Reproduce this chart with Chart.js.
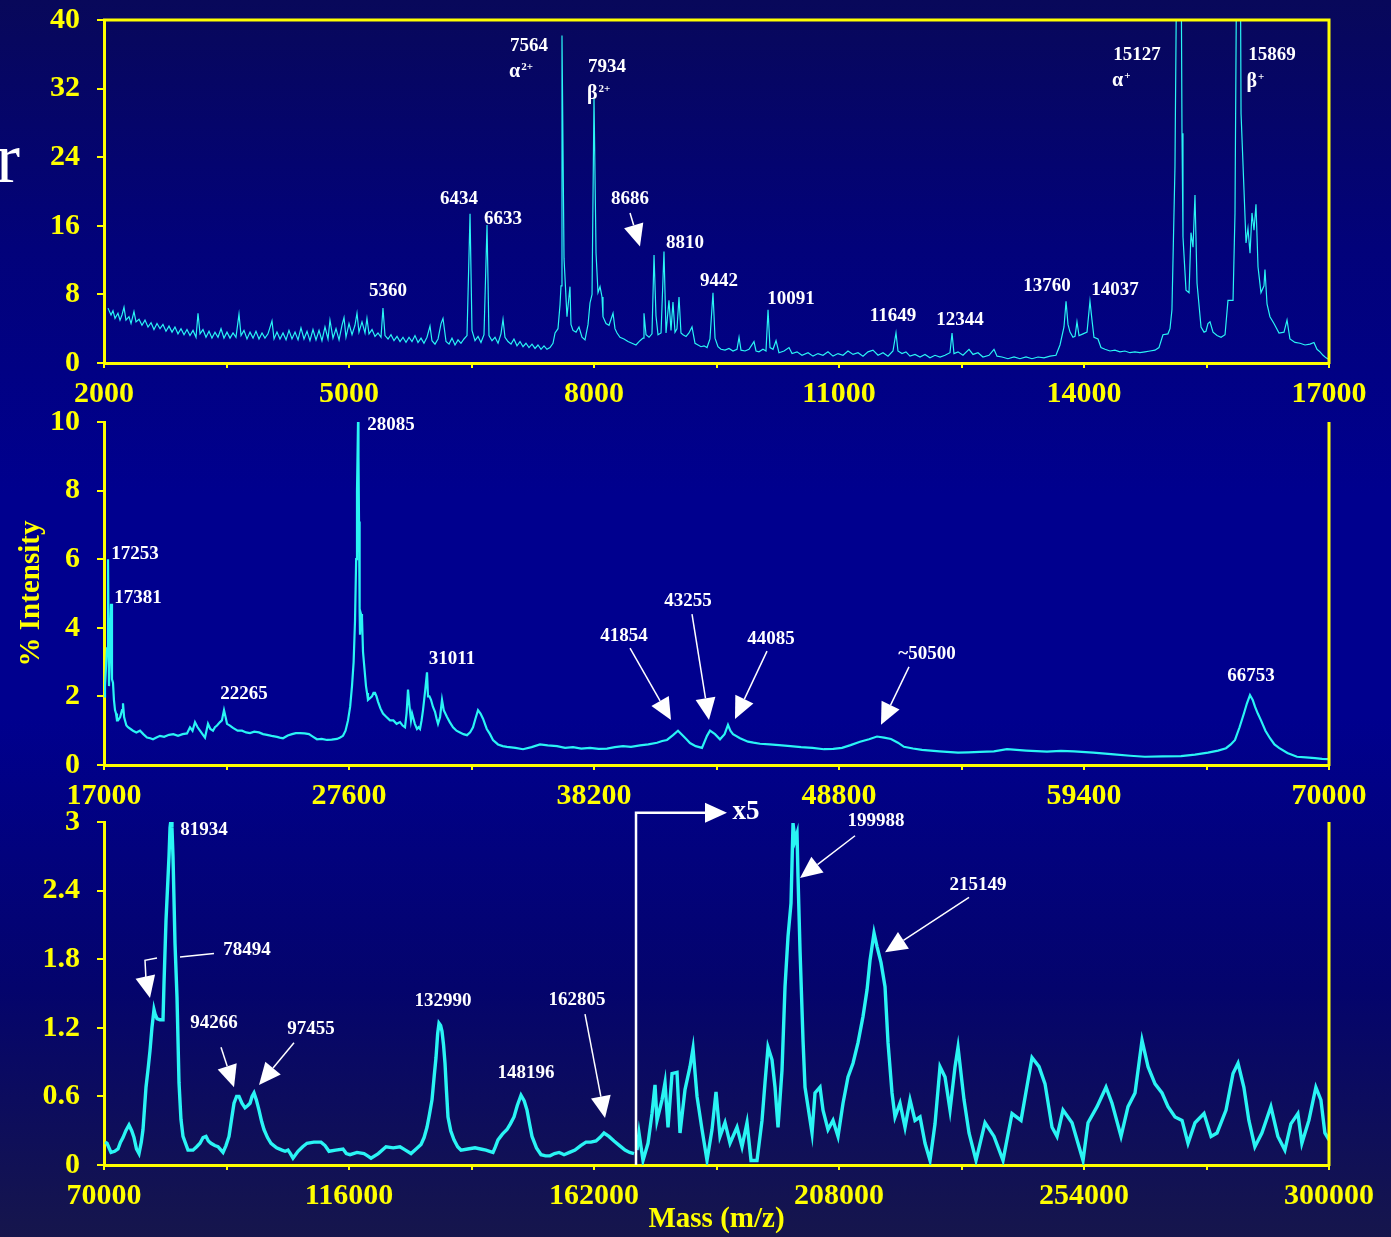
<!DOCTYPE html>
<html>
<head>
<meta charset="utf-8">
<script src="https://cdn.jsdelivr.net/npm/chart.js@4.4.1/dist/chart.umd.min.js"></script>
<style>
  html, body { margin: 0; padding: 0; }
  body {
    width: 1391px; height: 1237px; overflow: hidden; position: relative;
    background: linear-gradient(180deg, #08085a 0%, #02027a 20%, #00008e 40%, #00008e 58%, #04046c 80%, #16164c 100%);
  }
  canvas { position: absolute; left: 0; }
  #c1 { top: 0; }
  #c2 { top: 410px; }
  #c3 { top: 790px; }
  .stray { position: absolute; left: -4px; top: 122px; color: #fff; font: 72px/1 'Liberation Serif', serif; }
</style>
</head>
<body>
<div class="stray">r</div>
<canvas id="c1" width="1391" height="410"></canvas>
<canvas id="c2" width="1391" height="400"></canvas>
<canvas id="c3" width="1391" height="447"></canvas>
<script>
// ---- panel 1 : 2000 - 17000 ----
const xTicks1 = [2000, 5000, 8000, 11000, 14000, 17000];
const yTicks1 = [0, 8, 16, 24, 32, 40];
const mass1 = [
  2049,2086,2110,2135,2171,2196,2220,2245,2269,2306,
  2331,2367,2392,2429,2465,2502,2539,2576,2612,2649,
  2686,2722,2759,2796,2833,2869,2906,2943,2980,3016,
  3053,3090,3127,3151,3176,3212,3249,3286,3322,3359,
  3396,3433,3469,3506,3543,3580,3616,3653,3678,3714,
  3751,3788,3825,3861,3898,3935,3971,4008,4057,4082,
  4118,4155,4192,4229,4265,4302,4339,4376,4412,4449,
  4486,4522,4559,4596,4633,4669,4706,4743,4767,4804,
  4841,4878,4914,4939,4963,5000,5037,5073,5098,5122,
  5159,5196,5220,5245,5282,5318,5355,5392,5416,5441,
  5478,5514,5551,5588,5625,5661,5698,5735,5771,5808,
  5845,5882,5918,5955,5992,6016,6053,6090,6127,6151,
  6188,6225,6261,6298,6335,6371,6408,6445,6482,6506,
  6543,6580,6616,6653,6690,6714,6751,6788,6825,6861,
  6886,6910,6947,6984,7020,7057,7094,7131,7167,7204,
  7241,7278,7314,7351,7388,7424,7461,7498,7523,7559,
  7584,7596,7608,7633,7669,7706,7718,7743,7780,7816,
  7853,7890,7927,7951,7976,8000,8025,8049,8074,8098,
  8110,8147,8184,8233,8257,8282,8318,8367,8416,8465,
  8514,8563,8600,8612,8637,8674,8710,8735,8759,8784,
  8821,8857,8882,8918,8943,8967,8992,9016,9041,9065,
  9090,9127,9163,9200,9237,9274,9310,9347,9384,9420,
  9457,9482,9518,9555,9604,9653,9702,9751,9776,9800,
  9849,9898,9959,9984,10020,10069,10106,10131,10155,10192,
  10229,10265,10327,10388,10425,10486,10547,10621,10682,10743,
  10804,10865,10927,10988,11049,11110,11172,11233,11294,11355,
  11416,11478,11539,11600,11661,11698,11722,11771,11820,11869,
  11931,11992,12053,12114,12176,12237,12298,12359,12384,12408,
  12457,12518,12592,12641,12702,12763,12837,12898,12935,12996,
  13069,13143,13216,13290,13363,13437,13510,13584,13657,13706,
  13755,13780,13804,13829,13865,13890,13914,13939,13988,14037,
  14073,14098,14122,14171,14208,14257,14318,14379,14440,14501,
  14562,14624,14685,14746,14808,14869,14918,14967,15028,15053,
  15077,15114,15139,15188,15200,15212,15249,15286,15310,15335,
  15359,15384,15433,15470,15494,15518,15543,15580,15629,15678,
  15727,15763,15825,15849,15874,15911,15923,15959,15984,16008,
  16033,16057,16082,16106,16131,16167,16204,16216,16241,16277,
  16326,16388,16449,16486,16522,16584,16645,16706,16767,16816,
  16853,16890,16927,16963,17000
];
const inten1 = [
  6.4,5.6,6.1,5.2,5.8,5.0,5.6,6.5,5.0,5.4,
  4.6,6.0,4.8,5.1,4.4,5.0,4.2,4.7,3.9,4.6,
  4.0,4.5,3.7,4.3,3.6,4.2,3.4,4.0,3.3,3.9,
  3.2,3.8,3.0,5.8,3.4,3.9,3.0,3.7,2.9,3.6,
  3.0,4.0,2.9,3.6,2.9,3.5,3.0,5.7,3.2,3.8,
  2.8,3.6,2.9,3.7,2.8,3.5,2.9,3.4,4.9,2.8,
  3.6,2.8,3.5,2.7,3.8,2.8,3.6,2.7,4.1,2.8,
  3.7,2.6,3.9,2.7,3.8,2.6,4.2,2.8,5.0,2.9,
  4.0,2.7,4.4,5.3,3.0,4.6,3.3,4.4,5.8,3.6,
  4.8,3.5,5.2,3.4,3.9,3.1,3.5,3.0,6.4,3.2,
  2.8,3.3,2.6,3.1,2.5,3.0,2.4,3.0,2.5,3.2,
  2.4,2.9,2.3,3.0,4.3,2.6,2.2,2.8,4.6,5.2,
  2.5,2.2,2.9,2.1,2.7,2.3,2.8,3.2,17.4,3.8,
  2.6,3.1,2.4,3.3,16.1,3.2,2.6,3.0,2.3,3.4,
  5.1,3.0,2.5,2.2,2.8,2.0,2.5,1.9,2.3,1.8,
  2.2,1.7,2.1,1.6,2.0,1.6,1.8,2.3,3.5,4.0,
  6.8,9.0,38.2,12.2,5.4,8.9,4.5,3.8,3.6,4.2,
  3.0,2.7,4.5,7.0,8.0,30.9,12.8,8.2,8.9,7.7,
  5.4,4.6,4.4,5.8,4.0,3.5,3.0,2.8,2.5,2.3,
  2.1,2.6,2.9,5.8,3.3,3.0,3.4,12.6,5.5,3.3,
  3.5,13.0,3.5,7.3,3.8,7.1,3.6,4.0,7.7,3.5,
  3.3,3.1,3.5,4.2,2.3,2.1,1.9,2.0,1.8,2.8,
  8.2,2.9,1.9,1.6,1.5,1.7,1.4,1.6,3.0,1.5,
  1.4,1.6,2.5,1.4,1.3,1.6,1.4,6.2,1.8,1.6,
  2.6,1.2,1.4,1.8,1.1,1.3,0.9,1.2,0.8,1.1,
  0.9,1.3,0.8,1.1,0.9,1.4,1.0,1.2,0.8,1.3,
  1.5,0.9,1.2,0.8,1.4,3.5,1.4,1.1,1.3,0.8,
  1.0,0.7,1.0,0.6,0.9,0.7,0.9,1.2,3.5,1.1,
  1.3,0.9,1.6,1.0,1.2,0.7,0.9,1.6,0.8,0.7,
  0.5,0.7,0.5,0.7,0.5,0.7,0.6,0.8,0.9,2.1,
  4.2,7.2,4.5,3.6,3.0,3.1,4.8,3.2,3.4,3.6,
  7.2,5.0,3.0,2.8,1.8,1.6,1.4,1.5,1.3,1.4,
  1.2,1.3,1.2,1.3,1.4,1.5,1.8,3.3,3.4,4.0,
  6.2,22.9,52,50,26.8,14.7,8.5,8.2,15.2,13.5,
  19.6,9.3,4.2,3.6,3.7,4.6,4.8,3.6,3.2,3.0,
  3.3,7.3,7.3,17.5,55,55,29.1,20.2,14.0,15.7,
  12.8,17.5,15.5,18.5,11.2,8.2,9.0,10.9,6.9,5.4,
  4.6,3.5,3.6,5.0,2.8,2.4,2.3,2.1,2.2,2.4,
  1.6,1.3,0.9,0.6,0.4
];

// ---- panel 2 : 17000 - 70000 ----
const xTicks2 = [17000, 27600, 38200, 48800, 59400, 70000];
const yTicks2 = [0, 2, 4, 6, 8, 10];
const mass2 = [
  17000,17043,17090,17130,17173,17195,17216,17260,17303,17346,
  17389,17430,17476,17520,17562,17606,17700,17780,17822,17870,
  17909,17970,18038,18150,18255,18400,18558,18700,18860,19000,
  19120,19270,19423,19600,19812,20000,20202,20400,20591,20721,
  20830,20937,21050,21153,21260,21370,21500,21600,21716,21800,
  21889,22019,22100,22192,22260,22322,22450,22581,22780,22971,
  23150,23317,23500,23706,23880,24052,24250,24485,24600,24744,
  24950,25134,25300,25480,25680,25869,26050,26215,26420,26648,
  26850,27081,27220,27340,27450,27557,27650,27730,27800,27860,
  27910,27946,27990,28010,28033,28060,28076,28120,28162,28206,
  28270,28335,28380,28422,28510,28595,28660,28725,28790,28855,
  28960,29071,29220,29374,29520,29660,29807,29920,30023,30090,
  30153,30220,30282,30330,30369,30450,30542,30610,30672,30740,
  30802,30900,30975,31018,31080,31148,31230,31321,31390,31451,
  31540,31624,31700,31840,31960,32100,32250,32403,32550,32705,
  32840,32965,33070,33182,33290,33398,33560,33701,33830,34047,
  34250,34436,34800,35128,35500,35864,36200,36599,36950,37291,
  37650,38027,38400,38762,39100,39455,39800,40190,40550,40926,
  41150,41358,41618,41834,42050,42200,42353,42600,42872,43089,
  43218,43435,43651,43850,43997,44100,44214,44517,44863,45100,
  45382,45800,46204,46700,47156,47650,48151,48550,48930,49300,
  49709,50100,50444,50750,51050,51350,51612,52000,52391,53150,
  53948,54400,54900,55500,56068,56900,57799,58400,58967,59800,
  60698,61400,62034,62800,63597,64200,64763,65200,65545,65750,
  65933,66130,66322,66450,66581,66700,66798,66920,67058,67250,
  67447,67640,67836,68200,68615,69000,69394,69700,69956
];
const inten2 = [
  2.0,2.3,2.9,3.4,6.0,4.0,2.3,3.5,4.7,2.5,
  2.4,1.9,1.6,1.5,1.3,1.3,1.4,1.6,1.8,1.4,
  1.3,1.15,1.1,1.05,1.0,0.95,1.0,0.9,0.8,0.78,
  0.75,0.8,0.85,0.82,0.88,0.9,0.85,0.9,0.92,1.1,
  1.0,1.25,1.1,1.0,0.9,0.8,1.2,1.05,1.0,1.1,
  1.15,1.25,1.3,1.6,1.4,1.2,1.15,1.08,1.0,1.0,
  0.95,0.93,0.97,0.95,0.9,0.88,0.85,0.82,0.8,0.78,
  0.86,0.9,0.93,0.93,0.92,0.9,0.82,0.75,0.76,0.73,
  0.74,0.76,0.8,0.85,1.0,1.3,1.7,2.3,3.0,4.2,
  6.0,8.0,10.0,9.0,7.1,4.5,3.8,4.4,4.3,3.3,
  2.8,2.3,2.1,1.9,1.95,2.0,2.1,2.1,2.0,1.85,
  1.65,1.5,1.4,1.3,1.3,1.2,1.25,1.15,1.1,1.5,
  2.2,1.7,1.3,1.5,1.4,1.2,1.05,1.1,1.05,1.3,
  1.6,2.2,2.7,2.0,2.0,1.9,1.7,1.55,1.35,1.2,
  1.4,1.9,1.6,1.4,1.25,1.1,1.0,0.95,0.9,0.87,
  0.95,1.1,1.35,1.6,1.5,1.35,1.05,0.9,0.73,0.6,
  0.55,0.53,0.5,0.46,0.52,0.6,0.57,0.55,0.5,0.52,
  0.48,0.5,0.47,0.48,0.52,0.55,0.53,0.57,0.6,0.65,
  0.7,0.73,0.87,1.0,0.85,0.75,0.64,0.55,0.5,0.85,
  1.0,0.9,0.75,0.9,1.17,1.0,0.9,0.78,0.68,0.65,
  0.62,0.6,0.58,0.55,0.52,0.5,0.46,0.47,0.5,0.58,
  0.68,0.75,0.83,0.8,0.76,0.65,0.53,0.48,0.44,0.4,
  0.36,0.37,0.38,0.4,0.46,0.42,0.39,0.41,0.4,0.36,
  0.31,0.27,0.24,0.25,0.26,0.3,0.36,0.42,0.49,0.6,
  0.73,1.1,1.51,1.8,2.04,1.9,1.7,1.5,1.3,1.0,
  0.78,0.6,0.5,0.35,0.24,0.22,0.2,0.18,0.17
];

// ---- panel 3 : 70000 - 300000 (values above ~170000 shown x5) ----
const xTicks3 = [70000, 116000, 162000, 208000, 254000, 300000];
const yTicks3 = [0, 0.6, 1.2, 1.8, 2.4, 3];
const mass3 = [
  70200,70563,71314,72000,72629,73100,73567,74100,74694,75200,
  75633,76100,76572,77000,77323,77886,78300,78637,79000,79388,
  79600,79951,80500,81078,81266,81641,82204,82400,82580,82760,
  82955,83331,83706,84082,84450,84833,85772,86711,87400,88025,
  88600,89152,89600,90090,90800,91405,92343,92900,93470,93950,
  94409,94900,95348,95900,96474,97000,97413,97800,98164,98600,
  99103,99600,100042,100700,101356,102400,103421,104000,104548,105000,
  105487,106425,107300,108115,109400,110744,111500,112246,113500,114875,
  115500,116189,117500,118818,119500,120132,121500,122948,124300,125577,
  126600,127642,128600,129520,130100,130646,131100,131585,132000,132336,
  132650,132900,133200,133463,133750,134026,134300,134589,135100,135716,
  136400,137030,138300,139658,140700,141724,142400,143039,143500,143977,
  144800,145667,146300,146982,147600,148295,148900,149422,149900,150362,
  151200,152051,152900,153741,154600,155431,155900,156370,157400,158435,
  159500,160500,161400,162378,163100,163880,164800,165758,166800,167823,
  168700,169513
];
const inten3 = [
  0.20,0.19,0.11,0.12,0.14,0.20,0.24,0.30,0.35,0.30,
  0.24,0.14,0.10,0.20,0.31,0.68,0.85,1.00,1.20,1.36,
  1.32,1.28,1.27,1.27,1.59,2.14,2.70,2.95,3.02,2.95,
  2.70,1.94,1.47,0.72,0.40,0.25,0.13,0.13,0.16,0.19,
  0.24,0.25,0.21,0.19,0.17,0.16,0.11,0.17,0.25,0.40,
  0.54,0.60,0.60,0.54,0.50,0.52,0.54,0.60,0.63,0.57,
  0.48,0.38,0.31,0.24,0.19,0.15,0.13,0.12,0.13,0.10,
  0.06,0.12,0.16,0.19,0.20,0.20,0.17,0.12,0.13,0.14,
  0.10,0.09,0.11,0.10,0.08,0.06,0.10,0.16,0.15,0.16,
  0.13,0.10,0.14,0.18,0.24,0.33,0.44,0.57,0.78,0.94,
  1.15,1.24,1.22,1.17,1.05,0.89,0.65,0.42,0.30,0.22,
  0.16,0.13,0.14,0.15,0.14,0.13,0.12,0.11,0.16,0.22,
  0.27,0.31,0.36,0.42,0.52,0.61,0.56,0.48,0.36,0.25,
  0.15,0.09,0.08,0.08,0.10,0.11,0.10,0.09,0.11,0.13,
  0.17,0.20,0.20,0.21,0.24,0.28,0.25,0.21,0.17,0.13,
  0.11,0.10
];
const mass3x5 = [
  170076,170452,171203,172141,172892,173456,173831,174770,175333,175897,
  176648,177586,178150,179089,180027,180591,181342,182280,183219,184158,
  184909,185660,186599,187538,188852,189791,190730,191481,192607,193546,
  194109,194673,195424,195987,196550,197301,197865,198428,198991,199367,
  199742,200118,200305,200681,201244,201620,202183,202934,203497,204436,
  204999,205938,206877,207816,208755,209694,210632,211571,212510,213261,
  213824,214575,215138,215890,216641,217204,217955,218518,219457,220396,
  221335,222273,223212,224151,225090,226029,226968,227907,228846,229785,
  230348,231475,232412,233727,235417,237107,238797,240487,242176,244241,
  245556,246683,247997,248935,250062,251752,253066,253817,254756,256446,
  258136,259262,260952,262266,263580,264895,266021,267336,268650,269777,
  271091,272405,273532,274847,276536,277860,278978,280667,281981,282920,
  284019,284958,286083,287398,289088,290402,291716,292843,294157,294908,
  296223,297537,298476,299227,300000
];
const inten3x5 = [
  0.13,0.28,0.04,0.19,0.45,0.70,0.39,0.57,0.72,0.33,
  0.80,0.81,0.28,0.66,0.86,1.02,0.60,0.31,0.04,0.31,
  0.64,0.25,0.37,0.19,0.33,0.16,0.37,0.04,0.04,0.39,
  0.72,1.03,0.92,0.68,0.33,0.83,1.56,2.00,2.29,2.99,
  2.84,2.90,2.52,1.88,1.09,0.68,0.51,0.28,0.63,0.68,
  0.48,0.31,0.39,0.25,0.54,0.77,0.89,1.07,1.30,1.53,
  1.79,2.03,1.91,1.77,1.56,1.07,0.63,0.42,0.54,0.33,
  0.57,0.39,0.42,0.19,0.04,0.36,0.86,0.77,0.48,0.86,
  1.03,0.57,0.28,0.04,0.37,0.25,0.04,0.45,0.39,0.94,
  0.86,0.71,0.33,0.25,0.48,0.37,0.16,0.04,0.37,0.51,
  0.68,0.54,0.25,0.51,0.63,1.09,0.86,0.71,0.63,0.51,
  0.42,0.39,0.19,0.37,0.45,0.25,0.28,0.48,0.80,0.89,
  0.68,0.39,0.16,0.28,0.51,0.25,0.13,0.36,0.45,0.19,
  0.39,0.68,0.57,0.28,0.22
];

// ---- peak annotations: [text, mass, intensity] ----
const notes1 = [
  ['5360', 5478, 8.4], ['6434', 6347, 19.1], ['6633', 6886, 16.8],
  ['7564', 7204, 36.9], ['7934', 8159, 34.5], ['8686', 8441, 19.1],
  ['8810', 9115, 14.0], ['9442', 9531, 9.6], ['10091', 10412, 7.5],
  ['11649', 11661, 5.5], ['12344', 12482, 5.0], ['13760', 13547, 9.0],
  ['14037', 14380, 8.5], ['15127', 14649, 35.9], ['15869', 16302, 35.9]
];
const greek1 = [
  ['α', '2+', 6959, 33.9], ['β', '2+', 7914, 31.4],
  ['α', '+', 14343, 32.9], ['β', '+', 15990, 32.8]
];
const arrows1 = [[[8441, 17.5], [8563, 13.6]]];

const notes2 = [
  ['17253', 18341, 6.15], ['17381', 18471, 4.87], ['22265', 23057, 2.07],
  ['28085', 29417, 9.91], ['31011', 32056, 3.09], ['41854', 39498, 3.76],
  ['43255', 42267, 4.78], ['44085', 45858, 3.67], ['~50500', 52607, 3.24],
  ['66753', 66625, 2.6]
];
const arrows2 = [
  [[39758, 3.41], [41531, 1.31]],
  [[42440, 4.40], [43175, 1.31]],
  [[45685, 3.32], [44300, 1.34]],
  [[51829, 2.86], [50617, 1.17]]
];

const notes3 = [
  ['81934', 88776, 2.93], ['78494', 96850, 1.88], ['94266', 90654, 1.24],
  ['97455', 108867, 1.19], ['132990', 133651, 1.43], ['148196', 149235, 0.8],
  ['162805', 158811, 1.44], ['199988', 214951, 3.01], ['215149', 234104, 2.45]
];
const arrows3 = [
  [[79951, 1.81], [77698, 1.79], [77886, 1.62], [78637, 1.46]],
  [[91968, 1.03], [94409, 0.68]],
  [[105674, 1.07], [99103, 0.70]],
  [[160313, 1.32], [164068, 0.41]],
  [[211007, 2.88], [200681, 2.51]],
  [[232412, 2.34], [216641, 1.86]]
];
const lines3 = [[[90654, 1.85], [84270, 1.82]]];
const bracket3 = [[169888, 0], [169888, 3.08], [186975, 3.08]];
const zoomLabel3 = ['x5', 190542, 3.09];

// ---- drawing ----
const FONT = "'Liberation Serif', 'Times New Roman', serif";
const YELLOW = '#ffff00';
const CYAN = '#2af4f4';

function drawPath(ctx, pts, head) {
  const n = pts.length;
  let last = pts[n - 1];
  if (head) {
    const prev = pts[n - 2];
    const dx = last[0] - prev[0], dy = last[1] - prev[1];
    const len = Math.hypot(dx, dy) || 1;
    const ux = dx / len, uy = dy / len;
    const L = 22, W = 10;
    const bx = last[0] - ux * L, by = last[1] - uy * L;
    ctx.beginPath();
    ctx.moveTo(last[0], last[1]);
    ctx.lineTo(bx - uy * W, by + ux * W);
    ctx.lineTo(bx + uy * W, by - ux * W);
    ctx.closePath();
    ctx.fill();
    last = [bx, by];
  }
  ctx.beginPath();
  ctx.moveTo(pts[0][0], pts[0][1]);
  for (let i = 1; i < n - 1; i++) ctx.lineTo(pts[i][0], pts[i][1]);
  ctx.lineTo(last[0], last[1]);
  ctx.stroke();
}

function decoPlugin(o) {
  return {
    id: 'deco',
    afterDraw(chart) {
      const { ctx, chartArea: a, scales: { x, y } } = chart;
      const px = p => [x.getPixelForValue(p[0]), y.getPixelForValue(p[1])];
      ctx.save();
      // frame
      ctx.strokeStyle = YELLOW;
      ctx.lineWidth = 3;
      ctx.beginPath();
      if (o.box) { ctx.moveTo(a.left - 1, a.top); ctx.lineTo(a.right, a.top); }
      ctx.moveTo(a.right, a.top - (o.box ? 1.5 : 0));
      ctx.lineTo(a.right, a.bottom + 1);
      ctx.stroke();

      ctx.strokeStyle = '#ffffff';
      ctx.fillStyle = '#ffffff';
      ctx.lineWidth = 1.5;
      (o.arrows || []).forEach(ar => drawPath(ctx, ar.map(px), true));
      (o.lines || []).forEach(ln => drawPath(ctx, ln.map(px), false));
      if (o.bracket) {
        ctx.lineWidth = 2.5;
        drawPath(ctx, o.bracket.map(px), true);
      }

      ctx.textAlign = 'center';
      ctx.textBaseline = 'middle';
      ctx.font = 'bold 19px ' + FONT;
      (o.notes || []).forEach(n => {
        const [tx, ty] = px([n[1], n[2]]);
        ctx.fillText(n[0], tx, ty);
      });
      ctx.textAlign = 'left';
      (o.greek || []).forEach(g => {
        const [tx, ty] = px([g[2], g[3]]);
        ctx.font = 'bold 20px ' + FONT;
        ctx.fillText(g[0], tx, ty);
        const w = ctx.measureText(g[0]).width;
        ctx.font = 'bold 11px ' + FONT;
        ctx.fillText(g[1], tx + w + 1, ty - 5);
      });
      if (o.zoomLabel) {
        const [tx, ty] = px([o.zoomLabel[1], o.zoomLabel[2]]);
        ctx.textAlign = 'center';
        ctx.font = 'bold 27px ' + FONT;
        ctx.fillText(o.zoomLabel[0], tx, ty);
      }
      ctx.restore();
    }
  };
}

function makePanel(id, cfg) {
  const tickFont = { family: FONT, size: 30, weight: 'bold' };
  const titleFont = { family: FONT, size: 29, weight: 'bold' };
  return new Chart(document.getElementById(id), {
    type: 'line',
    data: {
      datasets: cfg.series.map(s => ({
        data: s.xs.map((m, i) => ({ x: m, y: s.ys[i] })),
        borderColor: CYAN,
        borderWidth: cfg.lineWidth,
        pointRadius: 0,
        tension: 0,
        fill: false
      }))
    },
    options: {
      responsive: false,
      animation: false,
      devicePixelRatio: 1,
      layout: { padding: { left: 0, right: 62, top: cfg.top, bottom: 0 } },
      plugins: { legend: { display: false }, tooltip: { enabled: false } },
      scales: {
        x: {
          type: 'linear',
          min: cfg.xTicks[0],
          max: cfg.xTicks[cfg.xTicks.length - 1],
          afterFit: s => { s.height = cfg.xHeight; },
          ticks: {
            stepSize: (cfg.xTicks[1] - cfg.xTicks[0]) / 2,
            autoSkip: false, maxRotation: 0, minRotation: 0, maxTicksLimit: 30,
            color: YELLOW, font: tickFont, padding: 8,
            callback: v => cfg.xTicks.includes(v) ? String(v) : ''
          },
          grid: { drawOnChartArea: false, color: YELLOW, lineWidth: 2, tickLength: 5 },
          border: { color: YELLOW, width: 3 },
          title: cfg.xTitle
            ? { display: true, text: cfg.xTitle, color: YELLOW, font: titleFont, padding: { top: 0, bottom: 0 } }
            : { display: false }
        },
        y: {
          type: 'linear',
          min: cfg.yTicks[0],
          max: cfg.yTicks[cfg.yTicks.length - 1],
          afterFit: s => { s.width = 104; s.paddingTop = 0; s.paddingBottom = 0; },
          ticks: {
            stepSize: cfg.yTicks[1] - cfg.yTicks[0],
            maxTicksLimit: 20,
            color: YELLOW, font: tickFont, padding: 17,
            callback: v => String(Math.round(v * 10) / 10)
          },
          grid: { drawOnChartArea: false, color: YELLOW, lineWidth: 2, tickLength: 7 },
          border: { color: YELLOW, width: 3 },
          title: cfg.yTitle
            ? { display: true, text: cfg.yTitle, color: YELLOW, font: titleFont, padding: { top: 14, bottom: 0 } }
            : { display: false }
        }
      }
    },
    plugins: [decoPlugin(cfg.deco)]
  });
}

makePanel('c1', {
  xTicks: xTicks1, yTicks: yTicks1, top: 20, xHeight: 47, lineWidth: 1.2,
  series: [{ xs: mass1, ys: inten1 }],
  deco: { box: true, notes: notes1, greek: greek1, arrows: arrows1 }
});

makePanel('c2', {
  xTicks: xTicks2, yTicks: yTicks2, top: 12, xHeight: 45, lineWidth: 2.2,
  yTitle: '% Intensity',
  series: [{ xs: mass2, ys: inten2 }],
  deco: { notes: notes2, arrows: arrows2 }
});

makePanel('c3', {
  xTicks: xTicks3, yTicks: yTicks3, top: 32, xHeight: 72, lineWidth: 3.4,
  xTitle: 'Mass (m/z)',
  series: [{ xs: mass3, ys: inten3 }, { xs: mass3x5, ys: inten3x5 }],
  deco: { notes: notes3, arrows: arrows3, lines: lines3, bracket: bracket3, zoomLabel: zoomLabel3 }
});
</script>
</body>
</html>
